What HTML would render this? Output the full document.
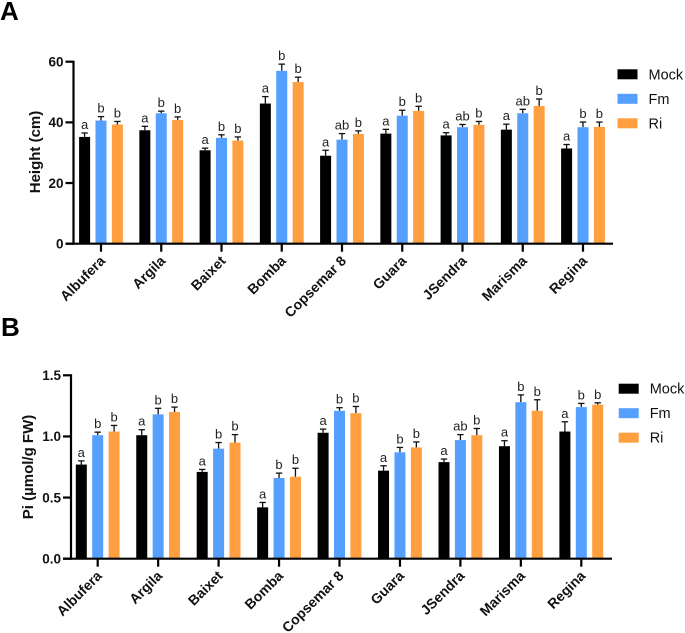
<!DOCTYPE html>
<html lang="en">
<head>
<meta charset="utf-8">
<title>Height and Pi by rice variety</title>
<style>
html,body{margin:0;padding:0;background:#fff}
svg{display:block;font-family:"Liberation Sans",sans-serif;filter:blur(0.35px)}
</style>
</head>
<body>
<svg id="figure" xmlns="http://www.w3.org/2000/svg" width="685" height="633" viewBox="0 0 685 633"></svg>
<script>
const categories = ["Albufera","Argila","Baixet","Bomba","Copsemar 8","Guara","JSendra","Marisma","Regina"];
const seriesNames = ["Mock","Fm","Ri"];

const heightTicks = [0,20,40,60];
const heightMock = [35.2,37.4,30.8,46.2,29.0,36.3,35.7,37.6,31.4];
const heightFm = [40.6,43.0,34.9,57.0,34.3,42.2,38.4,43.0,38.4];
const heightRi = [39.3,40.8,34.0,53.3,36.2,43.8,39.2,45.4,38.5];
const heightMockErr = [1.3,1.3,0.7,2.3,1.8,1.4,0.9,1.8,1.3];
const heightFmErr = [1.3,0.7,1.0,2.2,2.0,1.8,0.9,1.3,1.7];
const heightRiErr = [1.0,1.0,1.2,1.6,1.0,1.5,1.1,2.3,1.6];
const heightMockLetters = ["a","a","a","a","a","a","a","a","a"];
const heightFmLetters = ["b","b","b","b","ab","b","ab","ab","b"];
const heightRiLetters = ["b","b","b","b","b","b","b","b","b"];

const piTicks = ["0.0","0.5","1.0","1.5"];
const piMock = [0.77,1.01,0.71,0.42,1.03,0.72,0.79,0.92,1.04];
const piFm = [1.01,1.18,0.90,0.66,1.21,0.87,0.97,1.28,1.24];
const piRi = [1.04,1.20,0.95,0.67,1.19,0.91,1.01,1.21,1.26];
const piMockErr = [0.03,0.045,0.02,0.04,0.03,0.04,0.025,0.045,0.08];
const piFmErr = [0.025,0.05,0.05,0.04,0.025,0.04,0.045,0.06,0.03];
const piRiErr = [0.05,0.04,0.065,0.07,0.055,0.045,0.055,0.09,0.015];
const piMockLetters = ["a","a","a","a","a","a","a","a","a"];
const piFmLetters = ["b","b","b","b","b","b","ab","b","b"];
const piRiLetters = ["b","b","b","b","b","b","b","b","b"];

const NS = "http://www.w3.org/2000/svg";
const figure = document.getElementById("figure");
const seriesColors = ["#000000","#559FFF","#FF9F40"];
const seriesKeys = ["mock","fm","ri"];

function make(parent, tag, attrs, text) {
  const el = document.createElementNS(NS, tag);
  for (const k in attrs) el.setAttribute(k, attrs[k]);
  if (text !== undefined) el.textContent = text;
  parent.appendChild(el);
  return el;
}

function drawPanel(cfg) {
  const g = make(figure, "g", {});
  
  

  const yScale = v => cfg.y0 - (v / cfg.yMax) * (cfg.y0 - cfg.yTop);
  const xScale = i => cfg.x0 + i * cfg.step;

  const letter = make(g, "text", {x: cfg.letterX, y: cfg.letterY, "font-size": 26, "font-weight": 700, fill: "#000"}, cfg.letter);
  
  

  const yTitle = make(g, "text", {
    x: 0, y: 0, "font-size": 15, "font-weight": 700, fill: "#111", "text-anchor": "middle",
    transform: "translate(" + cfg.titleX + "," + cfg.titleY + ") rotate(-90)"
  }, cfg.title);
  
  

  cfg.series.forEach((values, s) => {
    const offset = (s - 1) * 16.4;
    const errors = cfg.errors[s];
    const letters = cfg.letters[s];
    values.forEach((v, i) => {
      const cx = xScale(i) + offset;
      const top = yScale(v);
      const errTop = yScale(v + errors[i]);

      const stem = make(g, "line", {x1: cx, x2: cx, y1: top, y2: errTop, stroke: "#111", "stroke-width": 1.3});
      
      
      const cap = make(g, "line", {x1: cx - 3.2, x2: cx + 3.2, y1: errTop, y2: errTop, stroke: "#111", "stroke-width": 1.3});
      
      

      const bar = make(g, "rect", {x: cx - 5.5, y: top, width: 11, height: cfg.y0 - top, fill: seriesColors[s]});
      
      

      const sig = make(g, "text", {x: cx, y: errTop - 4, "font-size": 13, fill: "#222", "text-anchor": "middle"}, letters[i]);
      
      
    });
  });

  const yAxis = make(g, "line", {x1: cfg.axisX, x2: cfg.axisX, y1: cfg.yTop - 1, y2: cfg.y0 + 1, stroke: "#000", "stroke-width": 2.2});
  
  
  const xAxis = make(g, "line", {x1: cfg.axisX - 8, x2: cfg.xEnd, y1: cfg.y0, y2: cfg.y0, stroke: "#000", "stroke-width": 2.2});
  
  

  cfg.ticks.forEach(t => {
    const y = yScale(Number(t));
    const tick = make(g, "line", {x1: cfg.axisX - 8, x2: cfg.axisX, y1: y, y2: y, stroke: "#000", "stroke-width": 2.2});
    
    
    const label = make(g, "text", {x: cfg.axisX - 10, y: y + 4.8, "font-size": 13.5, "font-weight": 700, fill: "#111", "text-anchor": "end"}, String(t));
    
    
  });

  categories.forEach((c, i) => {
    const x = xScale(i);
    const tick = make(g, "line", {x1: x, x2: x, y1: cfg.y0, y2: cfg.y0 + 8, stroke: "#000", "stroke-width": 2.2});
    
    
    const label = make(g, "text", {
      x: 0, y: 0, "font-size": 14, "font-weight": 700, fill: "#111", "text-anchor": "end",
      transform: "translate(" + (x + 5) + "," + (cfg.y0 + 18) + ") rotate(-45)"
    }, c);
    
    
  });

  seriesNames.forEach((name, s) => {
    const cy = cfg.legendY + s * cfg.legendStep;
    const swatch = make(g, "rect", {x: cfg.legendX, y: cy - 5, width: 20, height: 10, fill: seriesColors[s]});
    
    
    const label = make(g, "text", {x: cfg.legendX + 31, y: cy + 5, "font-size": 14.5, fill: "#111"}, name);
    
    
  });
}

drawPanel({
  key: "height", letter: "A", letterX: 0, letterY: 20, title: "Height (cm)", titleX: 40, titleY: 152,
  y0: 243.7, yTop: 61.7, yMax: 60, axisX: 73.5, xEnd: 613, x0: 101, step: 60.25,
  ticks: heightTicks,
  series: [heightMock, heightFm, heightRi],
  errors: [heightMockErr, heightFmErr, heightRiErr],
  letters: [heightMockLetters, heightFmLetters, heightRiLetters],
  legendX: 617.5, legendY: 74.3, legendStep: 24.5
});

drawPanel({
  key: "pi", letter: "B", letterX: 1, letterY: 336, title: "Pi (µmol/g FW)", titleX: 33, titleY: 467,
  y0: 558.7, yTop: 375.3, yMax: 1.5, axisX: 71, xEnd: 612, x0: 97.7, step: 60.45,
  ticks: piTicks,
  series: [piMock, piFm, piRi],
  errors: [piMockErr, piFmErr, piRiErr],
  letters: [piMockLetters, piFmLetters, piRiLetters],
  legendX: 618.7, legendY: 388.7, legendStep: 24.5
});
</script>
</body>
</html>
